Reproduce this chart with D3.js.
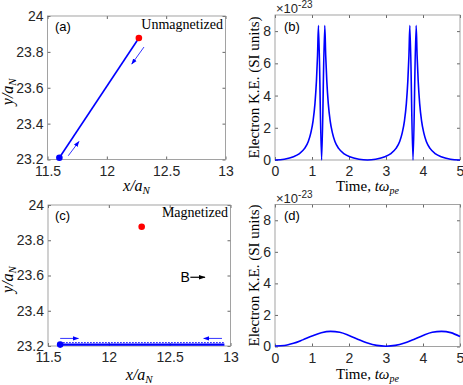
<!DOCTYPE html>
<html>
<head>
<meta charset="utf-8">
<script src="https://cdn.jsdelivr.net/npm/d3@7"></script>
<style>
  body { margin: 0; background: #fff; }
  svg { display: block; }
</style>
</head>
<body>
<div id="chart"></div>
<script>
// ---- data ----
// trajectories in units of a_N
const startPoint = { x: 11.6, y: 23.21 };      // blue dot (electron start)
const nucleusPoint = { x: 12.27, y: 23.877 };  // red dot
const trajUnmagX = [11.6, 12.27];
const trajUnmagY = [23.21, 23.877];
const trajMagX = [11.6, 12.95];
const trajMagY = [23.208, 23.208];

// kinetic energy, units of 1e-23 J
const timeB = [0, 0.25, 0.5, 0.65, 0.8, 0.9, 0.97, 1.03, 1.08, 1.12, 1.15, 1.175, 1.26, 1.345,
  1.37, 1.40, 1.44, 1.49, 1.55, 1.62, 1.72, 1.87, 2.02, 2.27, 2.5,
  2.72, 2.97, 3.12, 3.27, 3.37, 3.44, 3.50, 3.55, 3.59, 3.62, 3.645, 3.73, 3.815,
  3.84, 3.87, 3.91, 3.96, 4.02, 4.09, 4.19, 4.34, 4.49, 4.74, 5.0];
const keB = [0, 0.05, 0.2, 0.38, 0.72, 1.15, 1.7, 2.45, 3.5, 4.9, 6.5, 8.35, 0, 8.35,
  6.5, 4.9, 3.5, 2.45, 1.7, 1.15, 0.72, 0.38, 0.2, 0.05, 0,
  0.05, 0.2, 0.38, 0.72, 1.15, 1.7, 2.45, 3.5, 4.9, 6.5, 8.35, 0, 8.35,
  6.5, 4.9, 3.5, 2.45, 1.7, 1.15, 0.72, 0.38, 0.2, 0.05, 0];

const timeD = [0, 0.25, 0.5, 0.75, 1.0, 1.25, 1.5, 1.75, 2.0, 2.25, 2.5, 2.75, 3.0,
  3.25, 3.5, 3.75, 4.0, 4.25, 4.5, 4.75, 5.0];
const keD = [0.03, 0.06, 0.2, 0.42, 0.66, 0.87, 0.96, 0.9, 0.7, 0.45, 0.22, 0.07, 0.02,
  0.07, 0.22, 0.45, 0.7, 0.9, 0.96, 0.88, 0.63];

const posXTicks = [11.5, 12, 12.5, 13];
const posYTicks = [23.2, 23.4, 23.6, 23.8, 24];
const timeTicks = [0, 1, 2, 3, 4, 5];
const keTicks = [0, 2, 4, 6, 8];

const sans = "'Liberation Sans', Arial, sans-serif";
const serif = "'Liberation Serif', 'Times New Roman', serif";
const blue = "#0000ff";

const svg = d3.select("#chart").append("svg")
  .attr("width", 463).attr("height", 385);

const defs = svg.append("defs");
function marker(id, color, size) {
  defs.append("marker")
    .attr("id", id).attr("viewBox", "0 0 10 10")
    .attr("refX", 9).attr("refY", 5)
    .attr("markerWidth", size).attr("markerHeight", size)
    .attr("markerUnits", "userSpaceOnUse")
    .attr("orient", "auto")
    .append("path").attr("d", "M0,1.5 L10,5 L0,8.5 Z").attr("fill", color);
}
marker("ah-blue", blue, 6);
marker("ah-black", "#000", 7);

// builds one axes box with inward ticks on all four sides
function makeAxes(box, xDomain, yDomain, xTicks, yTicks, yFmt) {
  const x = d3.scaleLinear().domain(xDomain).range([box.left, box.right]);
  const y = d3.scaleLinear().domain(yDomain).range([box.bottom, box.top]);
  const g = svg.append("g");

  const styleAxis = sel => {
    sel.select(".domain").remove();
    sel.selectAll(".tick line").attr("stroke", "#262626").attr("stroke-width", 0.7);
    sel.selectAll("text").attr("fill", "#262626")
      .style("font-family", sans).style("font-size", "14px");
  };

  g.append("g").attr("transform", `translate(0,${box.bottom})`)
    .call(d3.axisBottom(x).tickValues(xTicks).tickSizeInner(-3).tickSizeOuter(0).tickPadding(6.5)
      .tickFormat(d3.format("")))
    .call(styleAxis);
  g.append("g").attr("transform", `translate(0,${box.top})`)
    .call(d3.axisTop(x).tickValues(xTicks).tickSizeInner(-3).tickSizeOuter(0).tickFormat(""))
    .call(styleAxis);
  g.append("g").attr("transform", `translate(${box.left},0)`)
    .call(d3.axisLeft(y).tickValues(yTicks).tickSizeInner(-3).tickSizeOuter(0).tickPadding(4)
      .tickFormat(yFmt))
    .call(styleAxis);
  g.append("g").attr("transform", `translate(${box.right},0)`)
    .call(d3.axisRight(y).tickValues(yTicks).tickSizeInner(-3).tickSizeOuter(0).tickFormat(""))
    .call(styleAxis);

  g.append("rect")
    .attr("x", box.left).attr("y", box.top)
    .attr("width", box.right - box.left).attr("height", box.bottom - box.top)
    .attr("fill", "none").attr("stroke", "#8c8c8c").attr("stroke-width", 0.8);
  return { x, y, g };
}

function panelLabel(txt, px, py) {
  svg.append("text").attr("x", px).attr("y", py)
    .style("font-family", sans).style("font-size", "13px").attr("fill", "#000").text(txt);
}

function posLabels(box, xBase) {
  // x label: x/a_N
  const t = svg.append("text")
    .attr("x", (box.left + box.right) / 2).attr("y", xBase)
    .attr("text-anchor", "middle")
    .style("font-family", serif).style("font-size", "16px").style("font-style", "italic");
  t.append("tspan").text("x/a");
  t.append("tspan").attr("dy", 3).style("font-size", "11px").text("N");

  const cy = (box.top + box.bottom) / 2 + 4;
  const ty = svg.append("text")
    .attr("transform", `translate(13,${cy}) rotate(-90)`)
    .attr("text-anchor", "middle")
    .style("font-family", serif).style("font-size", "16px").style("font-style", "italic");
  ty.append("tspan").text("y/a");
  ty.append("tspan").attr("dy", 3).style("font-size", "11px").text("N");
}

function keLabels(box, xBase) {
  const t = svg.append("text")
    .attr("x", (box.left + box.right) / 2).attr("y", xBase)
    .attr("text-anchor", "middle")
    .style("font-family", serif).style("font-size", "15px");
  t.append("tspan").text("Time, ");
  t.append("tspan").style("font-style", "italic").text("tω");
  t.append("tspan").attr("dy", 3).style("font-style", "italic").style("font-size", "10px").text("pe");

  svg.append("text")
    .attr("transform", `translate(259,${(box.top + box.bottom) / 2}) rotate(-90)`)
    .attr("text-anchor", "middle")
    .style("font-family", serif).style("font-size", "15px")
    .text("Electron K.E. (SI units)");

  const e = svg.append("text").attr("x", box.left + 1).attr("y", box.top - 2)
    .style("font-family", sans).style("font-size", "13px").attr("fill", "#262626");
  e.append("tspan").text("×10");
  e.append("tspan").attr("dy", -5).style("font-size", "10px").text("-23");
}

function arrow(ax, x1, y1, x2, y2, color, mk, w) {
  svg.append("line")
    .attr("x1", ax.x(x1)).attr("y1", ax.y(y1))
    .attr("x2", ax.x(x2)).attr("y2", ax.y(y2))
    .attr("stroke", color).attr("stroke-width", w)
    .attr("marker-end", `url(#${mk})`);
}

// ---- panel (a) ----
const boxA = { left: 47.5, right: 225.5, top: 16, bottom: 159.5 };
const A = makeAxes(boxA, [11.5, 13], [23.2, 24], posXTicks, posYTicks, d3.format(""));
svg.append("path")
  .datum(d3.zip(trajUnmagX, trajUnmagY))
  .attr("d", d3.line().x(d => A.x(d[0])).y(d => A.y(d[1])))
  .attr("fill", "none").attr("stroke", blue).attr("stroke-width", 1.6);
svg.append("circle").attr("cx", A.x(startPoint.x)).attr("cy", A.y(startPoint.y)).attr("r", 3.3).attr("fill", blue);
svg.append("circle").attr("cx", A.x(nucleusPoint.x)).attr("cy", A.y(nucleusPoint.y)).attr("r", 3.3).attr("fill", "#ff0000");
arrow(A, 12.313, 23.827, 12.21, 23.732, blue, "ah-blue", 0.8);
arrow(A, 11.675, 23.221, 11.765, 23.30, blue, "ah-blue", 0.8);
panelLabel("(a)", 55, 31);
svg.append("text").attr("x", 223).attr("y", 29).attr("text-anchor", "end")
  .style("font-family", serif).style("font-size", "14px").text("Unmagnetized");
posLabels(boxA, 191);

// ---- panel (b) ----
const boxB = { left: 275, right: 460, top: 15, bottom: 160 };
const B = makeAxes(boxB, [0, 5], [0, 9], timeTicks, keTicks, d3.format(""));
svg.append("path")
  .datum(d3.zip(timeB, keB))
  .attr("d", d3.line().x(d => B.x(d[0])).y(d => B.y(d[1])).curve(d3.curveMonotoneX))
  .attr("fill", "none").attr("stroke", blue).attr("stroke-width", 1.6);
panelLabel("(b)", 284, 31);
keLabels(boxB, 191);

// ---- panel (c) ----
const boxC = { left: 48, right: 230.5, top: 205, bottom: 346 };
const C = makeAxes(boxC, [11.5, 13], [23.2, 24], posXTicks, posYTicks, d3.format(""));
svg.append("path")
  .datum(d3.zip(trajMagX, trajMagY))
  .attr("d", d3.line().x(d => C.x(d[0])).y(d => C.y(d[1])))
  .attr("fill", "none").attr("stroke", blue).attr("stroke-width", 2.2);
svg.append("path")
  .datum(d3.zip(trajMagX, trajMagY))
  .attr("d", d3.line().x(d => C.x(d[0])).y(d => C.y(d[1]) - 2))
  .attr("fill", "none").attr("stroke", blue).attr("stroke-width", 1)
  .attr("stroke-dasharray", "1.5,1.5");
svg.append("circle").attr("cx", C.x(startPoint.x)).attr("cy", C.y(trajMagY[0])).attr("r", 3.3).attr("fill", blue);
svg.append("circle").attr("cx", C.x(nucleusPoint.x)).attr("cy", C.y(nucleusPoint.y)).attr("r", 3.3).attr("fill", "#ff0000");
arrow(C, 11.6, 23.243, 11.75, 23.243, blue, "ah-blue", 0.8);
arrow(C, 12.93, 23.243, 12.78, 23.243, blue, "ah-blue", 0.8);
arrow(C, 12.67, 23.59, 12.79, 23.59, "#000", "ah-black", 1.2);
svg.append("text").attr("x", C.x(12.665)).attr("y", C.y(23.59) + 5).attr("text-anchor", "end")
  .style("font-family", sans).style("font-size", "14px").text("B");
panelLabel("(c)", 55, 220);
svg.append("text").attr("x", 228).attr("y", 217).attr("text-anchor", "end")
  .style("font-family", serif).style("font-size", "14px").text("Magnetized");
posLabels(boxC, 380);

// ---- panel (d) ----
const boxD = { left: 275, right: 460, top: 204.5, bottom: 346.5 };
const D = makeAxes(boxD, [0, 5], [0, 9], timeTicks, keTicks, d3.format(""));
svg.append("path")
  .datum(d3.zip(timeD, keD))
  .attr("d", d3.line().x(d => D.x(d[0])).y(d => D.y(d[1])).curve(d3.curveMonotoneX))
  .attr("fill", "none").attr("stroke", blue).attr("stroke-width", 1.6);
panelLabel("(d)", 284, 220);
keLabels(boxD, 379);
</script>
</body>
</html>
